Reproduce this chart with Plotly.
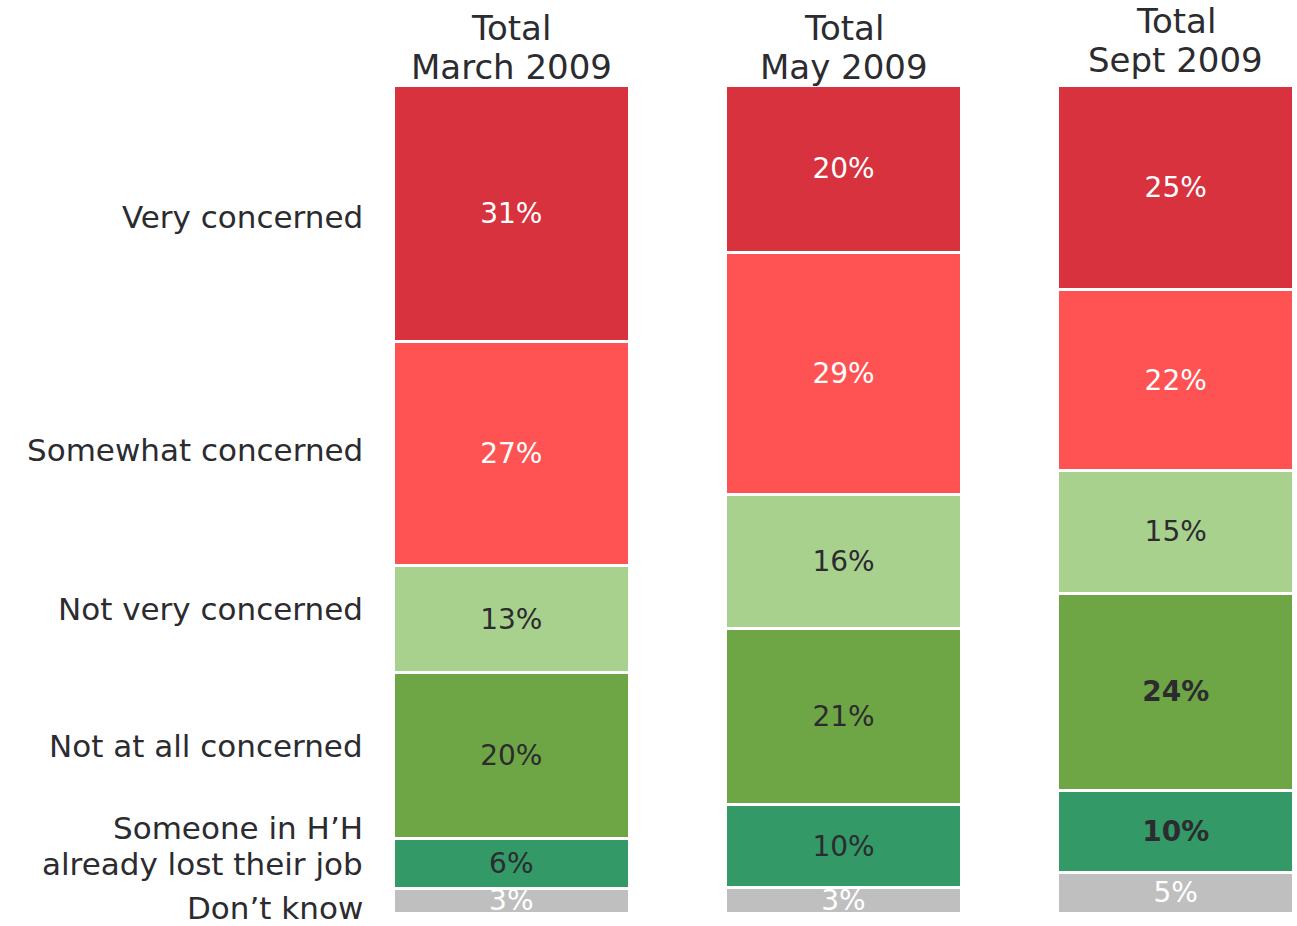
import plotly.graph_objects as go

columns = ["Total<br>March 2009", "Total<br>May 2009", "Total<br>Sept 2009"]
categories = ["Don’t know", "Someone in H’H<br>already lost their job", "Not at all concerned",
              "Not very concerned", "Somewhat concerned", "Very concerned"]
dont_know = [3, 3, 5]
lost_job = [6, 10, 10]
not_at_all = [20, 21, 24]
not_very = [13, 16, 15]
somewhat = [27, 29, 22]
very = [31, 20, 25]

series = [dont_know, lost_job, not_at_all, not_very, somewhat, very]
colors = ["#BFBFBF", "#339966", "#6FA645", "#A9D18E", "#FF5252", "#D7323E"]
text_colors = ["#FFFFFF", "#2B2B30", "#2B2B30", "#2B2B30", "#FFFFFF", "#FFFFFF"]
bold_points = {(1, 2), (2, 2)}  # (series index, column index)

FONT = "DejaVu Sans"
DARK = "#2B2B30"
x = [0, 1, 2]

fig = go.Figure()
for si, (name, vals) in enumerate(zip(categories, series)):
    texts = []
    for ci, v in enumerate(vals):
        t = f"{v}%"
        if (si, ci) in bold_points:
            t = f"<b>{t}</b>"
        texts.append(t)
    fig.add_trace(go.Bar(
        x=x, y=vals, name=name, width=0.709,
        marker=dict(color=colors[si], line=dict(color="white", width=3)),
        text=texts, textposition="inside", insidetextanchor="middle", textangle=0,
        textfont=dict(family=FONT, size=28, color=text_colors[si]),
        cliponaxis=False, showlegend=False,
    ))

# row labels aligned to March segments (pixel nudges per label, bottom to top)
label_shifts = [-7, 17, 10, 10, 3, -4]
LABEL_SIZE = 31
LINE_H = 36
cum = 0
march_total = sum(s[0] for s in series)
for si, vals in enumerate(series):
    center = (cum + vals[0] / 2) / march_total * 100
    cum += vals[0]
    lines = categories[si].split("<br>")
    n = len(lines)
    for li, line in enumerate(lines):
        off = ((n - 1) / 2 - li) * LINE_H
        fig.add_annotation(
            x=0, xref="paper", xanchor="right", xshift=-30,
            y=center, yref="y", yanchor="middle", yshift=label_shifts[si] + off,
            text=line, showarrow=False, align="right",
            font=dict(family=FONT, size=LABEL_SIZE, color=DARK),
        )

# column titles
title_base = [18, 18, 25]
TITLE_LINE_H = 39
for ci, col in enumerate(columns):
    lines = col.split("<br>")
    n = len(lines)
    for li, line in enumerate(lines):
        fig.add_annotation(
            x=x[ci], xref="x", y=1, yref="paper", yanchor="middle",
            yshift=title_base[ci] + (n - 1 - li) * TITLE_LINE_H,
            text=line, showarrow=False, align="center",
            font=dict(family=FONT, size=34, color=DARK),
        )

fig.update_layout(
    barmode="stack", barnorm="percent",
    width=1297, height=926,
    margin=dict(l=395, r=5, t=85, b=13),
    paper_bgcolor="white", plot_bgcolor="white",
    uniformtext=dict(minsize=28, mode="show"),
    xaxis=dict(range=[-0.35, 2.35], visible=False, fixedrange=True),
    yaxis=dict(range=[0, 100.001], visible=False, fixedrange=True),
)

fig.write_html("out.html")
